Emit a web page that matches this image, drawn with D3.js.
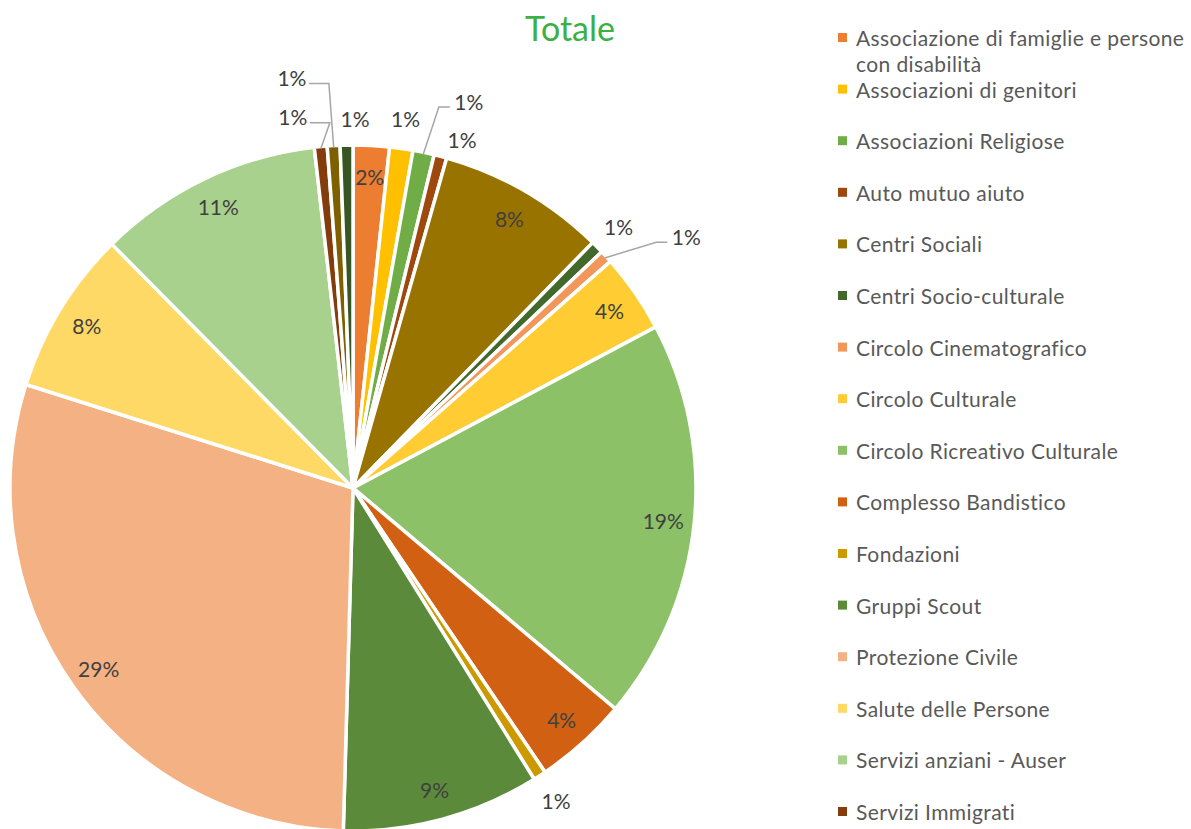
<!DOCTYPE html>
<html>
<head>
<meta charset="utf-8">
<script src="https://cdn.jsdelivr.net/npm/d3@7"></script>
<style>
  html, body { margin: 0; padding: 0; background: #fff; overflow: hidden; }
  svg { display: block; font-family: Lato, "Open Sans", sans-serif; }
</style>
</head>
<body>
<svg id="chart" width="1191" height="829"></svg>
<script>
// share of associations per type (percent)
const categories = [
  "Associazione di famiglie e persone con disabilità",
  "Associazioni di genitori",
  "Associazioni Religiose",
  "Auto mutuo aiuto",
  "Centri Sociali",
  "Centri Socio-culturale",
  "Circolo Cinematografico",
  "Circolo Culturale",
  "Circolo Ricreativo Culturale",
  "Complesso Bandistico",
  "Fondazioni",
  "Gruppi Scout",
  "Protezione Civile",
  "Salute delle Persone",
  "Servizi anziani - Auser",
  "Servizi Immigrati",
  "Sport e tempo libero",
  "Volontariato"
];
const values = [1.7, 1.1, 1.0, 0.6, 7.9, 0.6, 0.6, 3.7, 18.9, 4.4, 0.6, 9.3, 29.4, 7.7, 10.6, 0.6, 0.6, 0.6];
const colors = [
  "#ED7D31", "#FFC000", "#70AD47", "#9E480E", "#997300", "#43682B",
  "#F1975A", "#FFCD33", "#8CC168", "#D26012", "#CC9A00", "#5B8B3A",
  "#F4B183", "#FFD966", "#A9D18E", "#843C0C", "#7F6000", "#375623"
];

const svg = d3.select("#chart");
const width = 1191, height = 829;
const cx = 353, cy = 488, radius = 343;

// title
svg.append("text")
  .attr("x", 570)
  .attr("y", 41)
  .attr("text-anchor", "middle")
  .attr("fill", "#3CB043")
  .attr("font-size", 34)
  .text("Totale");

const total = d3.sum(values);
const pie = d3.pie().sort(null).value(d => d)(values);
const arc = d3.arc().innerRadius(0).outerRadius(radius);
const color = d3.scaleOrdinal().domain(categories).range(colors);

const g = svg.append("g").attr("transform", `translate(${cx},${cy})`);

g.selectAll("path.slice")
  .data(pie)
  .enter()
  .append("path")
  .attr("class", "slice")
  .attr("d", arc)
  .attr("fill", (d, i) => color(categories[i]))
  .attr("stroke", "#fff")
  .attr("stroke-width", 3.5)
  .attr("stroke-linejoin", "round");

// labels: big slices inside, thin ones outside (Excel "best fit")
const insideArc = d3.arc().innerRadius(312).outerRadius(312);
const outsideArc = d3.arc().innerRadius(373).outerRadius(373);
const edgeArc = d3.arc().innerRadius(radius - 2).outerRadius(radius - 2);

// manual nudges for the crowded outside labels, as Excel spread them
const nudge = {
  "Associazioni Religiose": [39, -22],
  "Auto mutuo aiuto": [14, 12],
  "Circolo Cinematografico": [58, 0],
  "Servizi Immigrati": [-25, 0],
  "Sport e tempo libero": [-40, -38],
  "Volontariato": [9, 3]
};
const withLeader = ["Associazioni Religiose", "Circolo Cinematografico", "Servizi Immigrati", "Sport e tempo libero"];

const labels = pie.map((d, i) => {
  const name = categories[i];
  const inside = (d.endAngle - d.startAngle) > 0.08;
  let [x, y] = inside ? insideArc.centroid(d) : outsideArc.centroid(d);
  const n = nudge[name] || [0, 0];
  if (!inside) { x += n[0]; y += n[1]; }
  return { d, name, x, y, inside, text: Math.round(d.data / total * 100) + "%" };
});

// leader lines
labels.filter(l => withLeader.includes(l.name)).forEach(l => {
  const [ax, ay] = edgeArc.centroid(l.d);
  const right = l.x > ax;
  const hxEnd = right ? l.x - 19 : l.x + 17;
  const hxStart = right ? hxEnd - 11 : hxEnd + 20;
  const hy = l.y + 6;
  g.append("polyline")
    .attr("points", `${ax},${ay} ${hxStart},${hy} ${hxEnd},${hy}`)
    .attr("fill", "none")
    .attr("stroke", "#A6A6A6")
    .attr("stroke-width", 1.5);
});

g.selectAll("text.lbl")
  .data(labels)
  .enter()
  .append("text")
  .attr("class", "lbl")
  .attr("x", l => l.x)
  .attr("y", l => l.y)
  .attr("text-anchor", "middle")
  .attr("dominant-baseline", "central")
  .attr("fill", "#404040")
  .attr("font-size", 21)
  .text(l => l.text);

// legend (rows past the bottom edge are clipped in the original, so skip them)
const legendX = 838, legendTop = 37, legendStep = 51.6, maxTextW = 336;
const legend = svg.append("g");
categories.forEach((name, i) => {
  const y = legendTop + i * legendStep;
  if (y + 12 > height) return;
  legend.append("rect")
    .attr("x", legendX)
    .attr("y", y - 4)
    .attr("width", 9)
    .attr("height", 9)
    .attr("fill", colors[i]);
  const t = legend.append("text")
    .attr("x", legendX + 18)
    .attr("y", y)
    .attr("dominant-baseline", "central")
    .attr("fill", "#595959")
    .attr("font-size", 21)
    .attr("letter-spacing", 0.4);
  // wrap long entries
  const words = name.split(" ");
  let line = [];
  let ts = t.append("tspan").attr("x", legendX + 18);
  words.forEach(w => {
    line.push(w);
    ts.text(line.join(" "));
    if (ts.node().getComputedTextLength() > maxTextW && line.length > 1) {
      line.pop();
      ts.text(line.join(" "));
      line = [w];
      ts = t.append("tspan").attr("x", legendX + 18).attr("dy", 26).text(w);
    }
  });
});
</script>
</body>
</html>
